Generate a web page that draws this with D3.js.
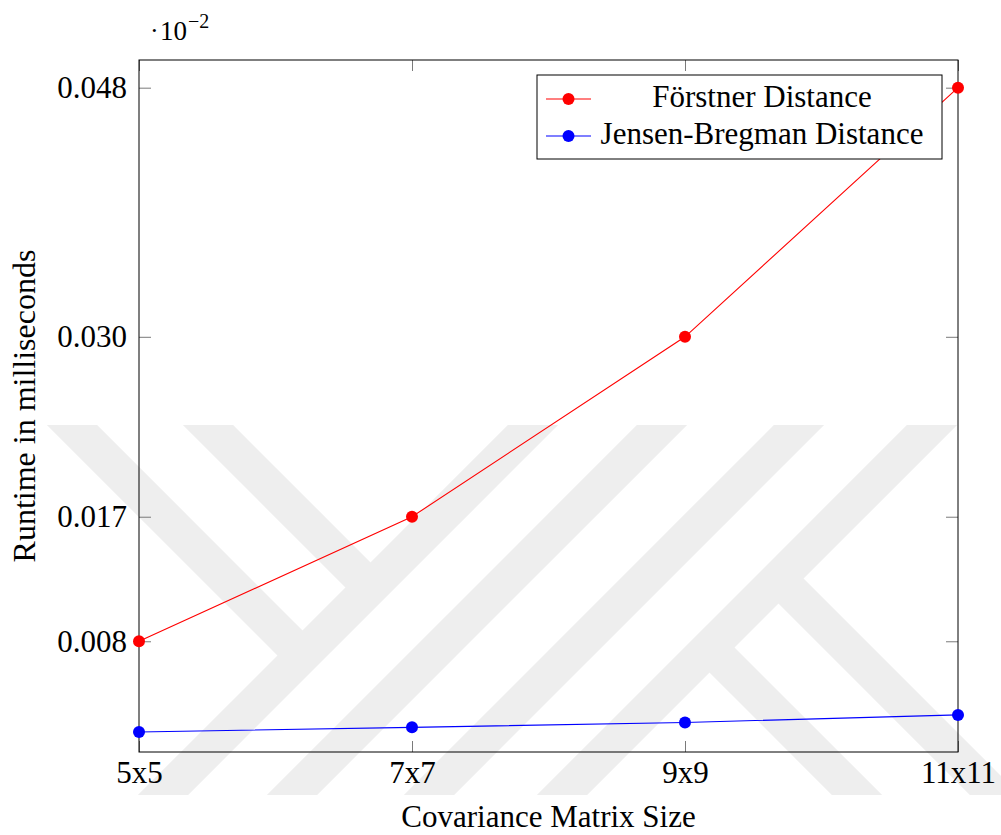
<!DOCTYPE html>
<html>
<head>
<meta charset="utf-8">
<script src="https://cdn.jsdelivr.net/npm/d3@7"></script>
<style>
  body { margin: 0; background: #fff; }
  svg { display: block; }
  text { font-family: "Liberation Serif", "Times New Roman", serif; fill: #000; }
</style>
</head>
<body>
<svg id="chart" width="1001" height="835"></svg>
<script>
// ---- data ----
const categories = ["5x5", "7x7", "9x9", "11x11"];
const forstnerValues = [0.008, 0.017, 0.030, 0.048];
const jensenValues = [0.00145, 0.00178, 0.00213, 0.00268];
const yTickValues = [0.008, 0.017, 0.030, 0.048];
const seriesNames = ["Förstner Distance", "Jensen-Bregman Distance"];
const seriesColors = ["#ff0000", "#0000ff"];
const xTitle = "Covariance Matrix Size";
const yTitle = "Runtime in milliseconds";
const yDomain = [0, 0.05];

// ---- layout ----
const W = 1001, H = 835;
const plot = { left: 139, top: 60, right: 958, bottom: 752 };
const FS = 31;

const svg = d3.select("#chart");

// ---- background watermark (decorative) ----
const wm = svg.append("g");
svg.append("defs").append("clipPath").attr("id", "wmclip")
  .append("rect").attr("x", 0).attr("y", 425).attr("width", W).attr("height", 370);
const wmG = wm.attr("clip-path", "url(#wmclip)")
  .attr("stroke", "#eeeeee").attr("stroke-width", 35.5).attr("fill", "none");
const slash = [958, 1087, 1224, 1357];           // x + y = c
slash.forEach(c => wmG.append("line")
  .attr("x1", c - 380).attr("y1", 380).attr("x2", c - 840).attr("y2", 840));
const back = [ [-353, 958, 380], [-217, 958, 380], [200, 1357, 1000], [62, 1357, 1000] ]; // x - y = c, joined to slash band
back.forEach(([c, s, far]) => {
  const xj = (s + c) / 2, yj = (s - c) / 2;
  if (far < 500) {
    wmG.append("line").attr("x1", c + far).attr("y1", far).attr("x2", xj).attr("y2", yj);
  } else {
    wmG.append("line").attr("x1", xj).attr("y1", yj).attr("x2", far).attr("y2", far - c);
  }
});

// ---- scales ----
const x = d3.scalePoint().domain(categories).range([plot.left, plot.right]).padding(0);
const y = d3.scaleLinear().domain(yDomain).range([plot.bottom, plot.top]);

// ---- axes (ticks inside, mirrored) ----
const tickColor = "#7a7a7a";
function styleAxis(g) {
  g.select(".domain").remove();
  g.selectAll(".tick line").attr("stroke", tickColor).attr("stroke-width", 1);
  g.selectAll(".tick text").attr("font-size", FS).attr("font-family", "Liberation Serif, serif").attr("fill", "#000");
}
svg.append("g").attr("transform", `translate(${plot.left},0)`)
  .call(d3.axisLeft(y).tickValues(yTickValues).tickSize(-12).tickPadding(12).tickFormat(d3.format(".3f")))
  .call(styleAxis);
svg.append("g").attr("transform", `translate(${plot.right},0)`)
  .call(d3.axisRight(y).tickValues(yTickValues).tickSize(-12).tickFormat(""))
  .call(styleAxis);
svg.append("g").attr("transform", `translate(0,${plot.bottom})`)
  .call(d3.axisBottom(x).tickSize(-11).tickPadding(9))
  .call(styleAxis);
svg.append("g").attr("transform", `translate(0,${plot.top})`)
  .call(d3.axisTop(x).tickSize(-11).tickFormat(""))
  .call(styleAxis);

// ---- frame ----
svg.append("rect")
  .attr("x", plot.left).attr("y", plot.top)
  .attr("width", plot.right - plot.left).attr("height", plot.bottom - plot.top)
  .attr("fill", "none").attr("stroke", "#000").attr("stroke-width", 1);

// ---- series ----
const series = [forstnerValues, jensenValues];
const line = d3.line().x((d, i) => x(categories[i])).y(d => y(d));
series.forEach((vals, si) => {
  svg.append("path").datum(vals)
    .attr("d", line).attr("fill", "none")
    .attr("stroke", seriesColors[si]).attr("stroke-width", 1.1);
  svg.append("g").selectAll("circle").data(vals).join("circle")
    .attr("cx", (d, i) => x(categories[i])).attr("cy", d => y(d))
    .attr("r", 6).attr("fill", seriesColors[si]);
});

// ---- scale label ·10^-2 ----
svg.append("text").attr("x", 150).attr("y", 39).attr("font-size", 26).text("·");
svg.append("text").attr("x", 160).attr("y", 40).attr("font-size", 27).text("10");
svg.append("text").attr("x", 188).attr("y", 28).attr("font-size", 20).text("−2");

// ---- axis titles ----
svg.append("text").attr("x", (plot.left + plot.right) / 2).attr("y", 827)
  .attr("text-anchor", "middle").attr("font-size", FS).text(xTitle);
svg.append("text")
  .attr("transform", `translate(35,${(plot.top + plot.bottom) / 2}) rotate(-90)`)
  .attr("text-anchor", "middle").attr("font-size", 32).text(yTitle);

// ---- legend ----
const lg = { right: plot.right - 16, top: plot.top + 15, width: 405, height: 84 };
const lgLeft = lg.right - lg.width;
const legend = svg.append("g");
legend.append("rect").attr("x", lgLeft).attr("y", lg.top)
  .attr("width", lg.width).attr("height", lg.height)
  .attr("fill", "#fff").attr("stroke", "#000").attr("stroke-width", 1);
const rowY = [lg.top + 24, lg.top + 61];
seriesNames.forEach((name, i) => {
  const yy = rowY[i];
  legend.append("line").attr("x1", lgLeft + 9).attr("x2", lgLeft + 54)
    .attr("y1", yy).attr("y2", yy).attr("stroke", seriesColors[i]).attr("stroke-width", 1.1);
  legend.append("circle").attr("cx", lgLeft + 31.5).attr("cy", yy).attr("r", 6).attr("fill", seriesColors[i]);
  legend.append("text").attr("x", lgLeft + 225).attr("y", yy + 8)
    .attr("text-anchor", "middle").attr("font-size", FS).text(name);
});
</script>
</body>
</html>
